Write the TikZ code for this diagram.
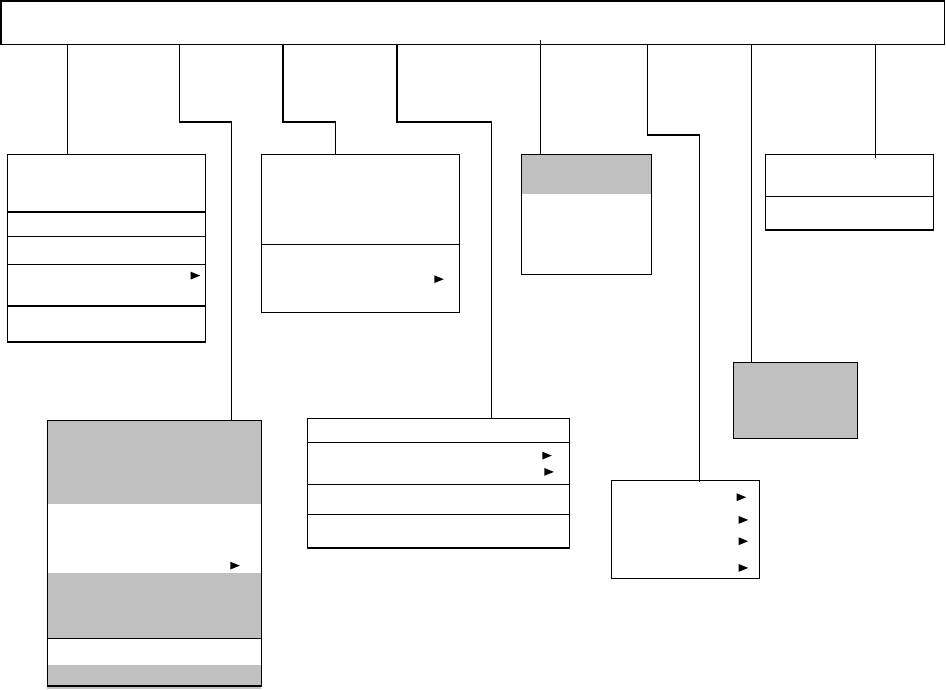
\documentclass[tikz,border=0pt]{standalone}
\usetikzlibrary{fit}
\definecolor{menugray}{HTML}{C0C0C0}
\tikzset{
  box/.style={draw=black, line width=1.2pt, inner sep=0pt},
  link/.style={draw=black, line width=1.2pt},
  sep/.style={draw=black, line width=1.2pt},
  band/.style={fill=menugray, draw=none},
}
\newcommand{\subtri}[1]{\fill[black] (#1) -- ++(9.5,3.9) -- ++(-9.5,3.9) -- cycle;}
\begin{document}
\begin{tikzpicture}[x=1pt,y=-1pt]
\useasboundingbox (0,0) rectangle (946,689);
% corner coordinates
\coordinate (T1) at (1,1);       \coordinate (T2) at (944.2,44.3);
\coordinate (A1) at (7.3,154.3); \coordinate (A2) at (205.3,342);
\coordinate (B1) at (261.3,154.3); \coordinate (B2) at (459.3,312.3);
\coordinate (C1) at (521.3,154.3); \coordinate (C2) at (651.5,274.3);
\coordinate (D1) at (765.3,154.3); \coordinate (D2) at (933.3,230);
\coordinate (E1) at (47.3,420.7);  \coordinate (E2) at (261.3,686);
\coordinate (F1) at (307.3,418.3); \coordinate (F2) at (569.3,548);
\coordinate (G1) at (733.3,362.3); \coordinate (G2) at (857.3,438.3);
\coordinate (H1) at (611.3,480.3); \coordinate (H2) at (759.3,578.3);
% gray bands
\fill[band] (C1) rectangle (651.5,193.7);
\fill[band] (E1) rectangle (261.3,504);
\fill[band] (47.3,572.7) rectangle (261.3,638.3);
\fill[band] (47.3,665) rectangle (261.3,688.8);
\fill[band] (G1) rectangle (G2);
% boxes
\node[box, fit=(T1)(T2)] (T) {};
\node[box, fit=(A1)(A2)] (A) {};
\node[box, fit=(B1)(B2)] (B) {};
\node[box, fit=(C1)(C2)] (C) {};
\node[box, fit=(D1)(D2)] (D) {};
\node[box, fit=(E1)(E2)] (E) {};
\node[box, fit=(F1)(F2)] (F) {};
\node[box, fit=(G1)(G2)] (G) {};
\node[box, fit=(H1)(H2)] (H) {};
% dividers
\foreach \yy in {212,236.3,264.3,306} \draw[sep] (A.west |- 0,\yy) -- (A.east |- 0,\yy);
\draw[sep] (B.west |- 0,244.3) -- (B.east |- 0,244.3);
\draw[sep] (D.west |- 0,196.3) -- (D.east |- 0,196.3);
\draw[sep] (E.west |- 0,638.3) -- (E.east |- 0,638.3);
\foreach \yy in {442.3,484.3,514.3} \draw[sep] (F.west |- 0,\yy) -- (F.east |- 0,\yy);
% submenu triangles
\subtri{190.7,271.7}
\subtri{434.3,275.3}
\subtri{230.3,561.7}
\subtri{542.3,451.7}
\subtri{544.3,468}
\subtri{736.7,493.3}
\subtri{738.7,516}
\subtri{738.7,537.3}
\subtri{738.7,564}
% connectors
\coordinate (s1) at (67.3,0);
\draw[link] (T.south -| s1) -- ([yshift=-1.7]A.north -| s1);
\coordinate (j2) at (231.3,122);
\draw[link] (T.south -| 179.8,0) |- (j2) -- (j2 |- E.north);
\coordinate (j3) at (335.3,122);
\draw[link] (T.south -| 283,0) |- (j3) -- (j3 |- B.north);
\coordinate (j4) at (491.3,122);
\draw[link] (T.south -| 397,0) |- (j4) -- ([yshift=-1.7]j4 |- F.north);
\coordinate (s5) at (540.3,40);
\draw[link] (s5) -- (s5 |- C.north);
\coordinate (j6) at (699.3,135);
\draw[link] (T.south -| 647.3,0) |- (j6) -- ([yshift=-2.4]j6 |- H.north);
\coordinate (s7) at (751.3,0);
\draw[link] (T.south -| s7) -- (s7 |- G.north);
\coordinate (s8) at (875.3,0);
\draw[link] (T.south -| s8) -- ([yshift=-4.4]D.north -| s8);
\end{tikzpicture}
\end{document}
